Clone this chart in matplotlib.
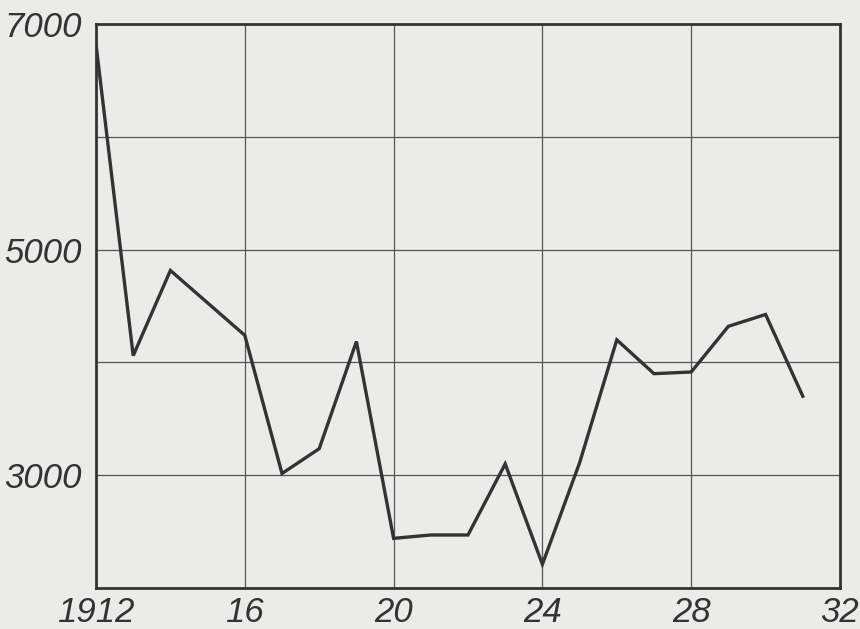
import matplotlib
matplotlib.use("Agg")
import matplotlib.pyplot as plt

# Werte
jahre = [1912, 1913, 1914, 1916, 1917, 1918, 1919, 1920, 1921, 1922,
         1923, 1924, 1925, 1926, 1927, 1928, 1929, 1930, 1931]
werte = [6820, 4060, 4815, 4240, 3015, 3235, 4185, 2440, 2470, 2470,
         3100, 2210, 3110, 4200, 3900, 3915, 4320, 4425, 3700]

x_ticks = [1912, 1916, 1920, 1924, 1928, 1932]
x_labels = ["1912", "16", "20", "24", "28", "32"]
y_grid = [3000, 4000, 5000, 6000]
y_ticks = [3000, 5000, 7000]
y_labels = ["3000", "5000", "7000"]

papier = "#ebebe9"
tinte = "#333333"

fig = plt.figure(figsize=(8.6, 6.29), dpi=100, facecolor=papier)
ax = fig.add_axes([96 / 860, 1 - 588 / 629, 744 / 860, 564 / 629])
ax.set_facecolor(papier)

ax.set_xlim(1912, 1932)
ax.set_ylim(2000, 7000)

# Gitter
for gx in x_ticks[1:-1]:
    ax.axvline(gx, color="#555555", linewidth=0.9, zorder=1)
for gy in y_grid:
    ax.axhline(gy, color="#555555", linewidth=0.9, zorder=1)

ax.plot(jahre, werte, color=tinte, linewidth=2.4, solid_joinstyle="miter", zorder=3)

for s in ax.spines.values():
    s.set_color(tinte)
    s.set_linewidth(2)

schrift = dict(family="Liberation Sans", style="italic", size=25, color=tinte)
ax.set_xticks(x_ticks)
ax.set_xticklabels(x_labels, **schrift)
ax.set_yticks(y_ticks)
ax.set_yticklabels(y_labels, **schrift)
ax.tick_params(length=0)
ax.tick_params(axis="x", pad=6)
ax.tick_params(axis="y", pad=10)

fig.savefig("out.png", dpi=100, facecolor=papier)
